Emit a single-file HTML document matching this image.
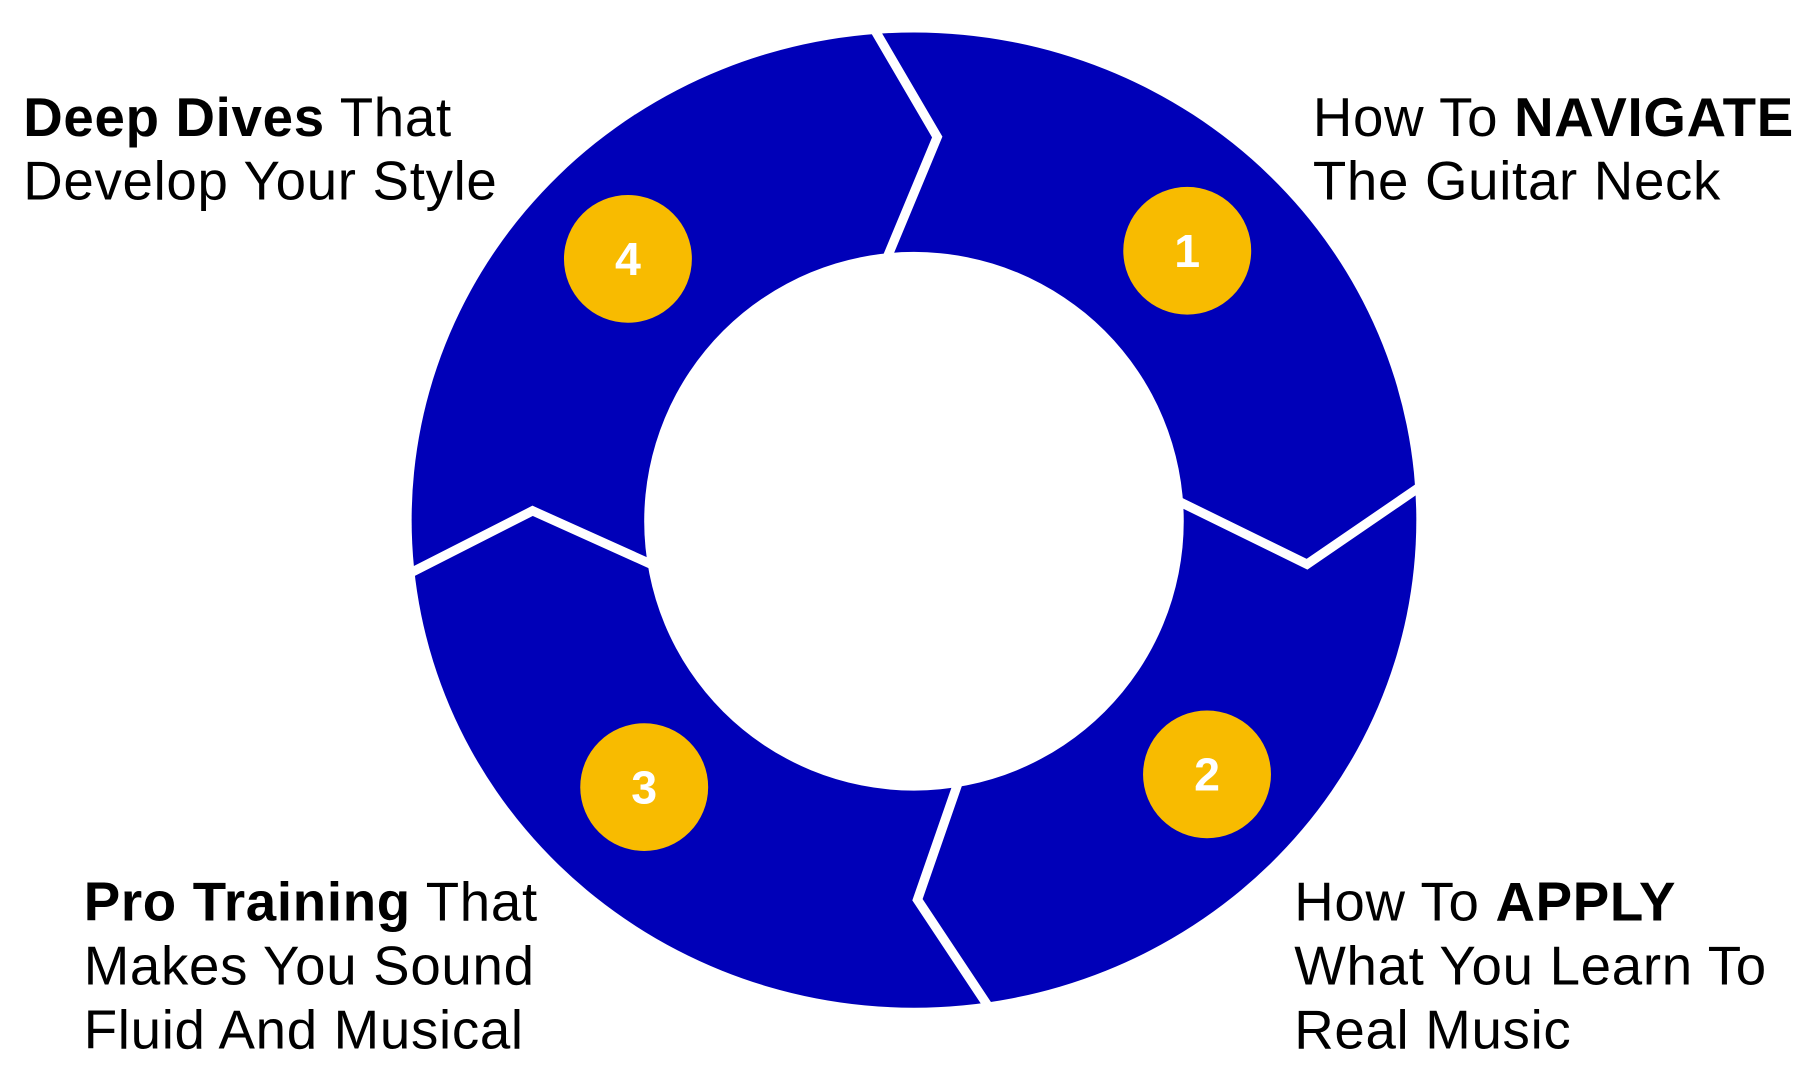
<!DOCTYPE html>
<html><head><meta charset="utf-8"><style>
html,body{margin:0;padding:0;background:#fff;}
svg{display:block;}
text{font-family:"Liberation Sans",Arial,sans-serif;font-size:47px;letter-spacing:0.6px;fill:#000;}
.b{font-weight:bold;}
.n{font-size:40px;font-weight:bold;fill:#fff;letter-spacing:0;}
</style></head><body>
<svg width="1814" height="1082" viewBox="0 0 1560 932" preserveAspectRatio="none" xmlns="http://www.w3.org/2000/svg">
<g transform="translate(-4,0)">
<ellipse cx="790" cy="448" rx="432" ry="420" fill="#0000B8"/>
<circle cx="790" cy="449" r="232" fill="#fff"/>
<g fill="none" stroke="#fff" stroke-width="8" stroke-linejoin="miter">
<polyline points="754,22 810,118 766,224"/>
<polyline points="1018,432 1128,486 1230,416"/>
<polyline points="828,674 793,775 856,870"/>
<polyline points="564,486 462,440 352,496"/>
</g>
<g fill="#F8BB00">
<circle cx="1025" cy="216" r="55"/>
<circle cx="1042" cy="667" r="55"/>
<circle cx="558" cy="678" r="55"/>
<circle cx="544" cy="223" r="55"/>
</g>
<text class="n" x="1025" y="230" text-anchor="middle">1</text>
<text class="n" x="1042" y="681" text-anchor="middle">2</text>
<text class="n" x="558" y="692" text-anchor="middle">3</text>
<text class="n" x="544" y="237" text-anchor="middle">4</text>
</g>
<text x="20" y="117"><tspan class="b">Deep Dives</tspan> That</text>
<text x="20" y="172">Develop Your Style</text>

<text x="1129" y="117">How To <tspan class="b">NAVIGATE</tspan></text>
<text x="1129" y="172">The Guitar Neck</text>

<text x="1113" y="793">How To <tspan class="b">APPLY</tspan></text>
<text x="1113" y="848">What You Learn To</text>
<text x="1113" y="903">Real Music</text>

<text x="72" y="793"><tspan class="b">Pro Training</tspan> That</text>
<text x="72" y="848">Makes You Sound</text>
<text x="72" y="903">Fluid And Musical</text>
</svg>
</body></html>
